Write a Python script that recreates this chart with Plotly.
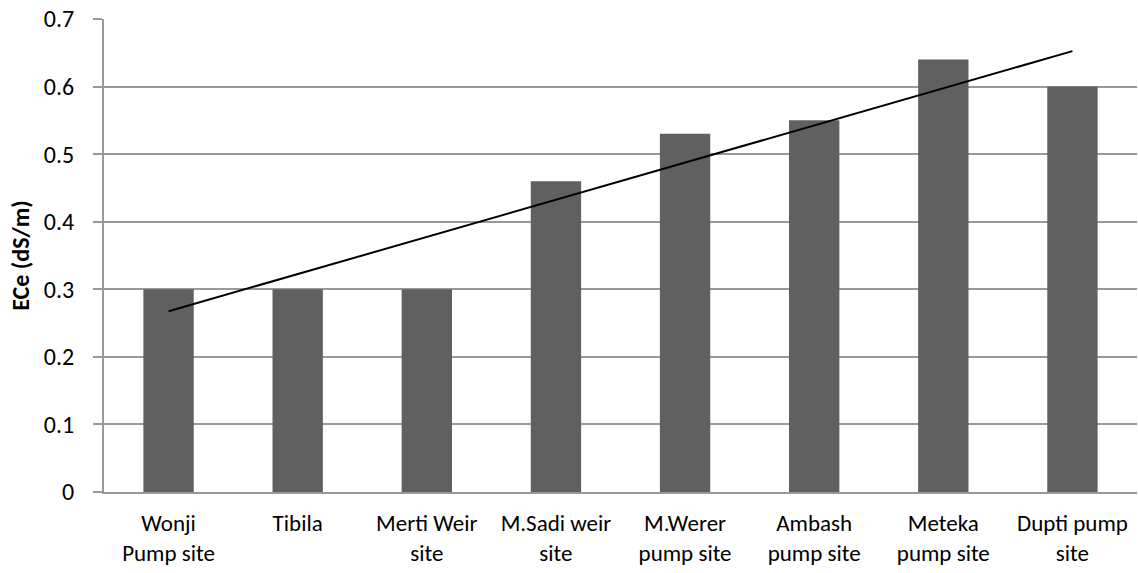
import numpy as np
import plotly.graph_objects as go

categories = ["Wonji<br>Pump site", "Tibila", "Merti Weir<br>site", "M.Sadi weir<br>site",
              "M.Werer<br>pump site", "Ambash<br>pump site", "Meteka<br>pump site", "Dupti pump<br>site"]
ece_values = [0.30, 0.30, 0.30, 0.46, 0.53, 0.55, 0.64, 0.60]
y_ticks = [0, 0.1, 0.2, 0.3, 0.4, 0.5, 0.6, 0.7]

# linear trend line (least squares over category index)
idx = np.arange(1, len(ece_values) + 1)
slope, intercept = np.polyfit(idx, ece_values, 1)
trend = slope * idx + intercept

FONT = "Carlito, Calibri, Lato, 'Open Sans', sans-serif"
FS = 24

fig = go.Figure()
fig.add_trace(go.Bar(x=categories, y=ece_values, marker=dict(color="#606060", line=dict(width=0)),
                     showlegend=False))
fig.add_trace(go.Scatter(x=[categories[0], categories[-1]], y=[trend[0], trend[-1]], mode="lines",
                         line=dict(color="black", width=2), showlegend=False))

fig.update_layout(
    width=1138, height=573,
    margin=dict(l=104, r=1, t=19, b=81, autoexpand=False),
    paper_bgcolor="white", plot_bgcolor="white",
    bargap=0.61,
    font=dict(family=FONT, size=FS, color="black"),
    xaxis=dict(showgrid=False, showline=True, linecolor="#999999", linewidth=2,
               ticks="", tickfont=dict(size=23), ticklabelstandoff=9,
               ticklabeloverflow="allow", automargin=False),
    yaxis=dict(range=[0, 0.7], tickvals=y_ticks, ticktext=[f"{v:g}" for v in y_ticks],
               showgrid=True, gridcolor="#999999", gridwidth=2,
               showline=True, linecolor="#999999", linewidth=2,
               ticks="outside", ticklen=9, tickcolor="#999999", tickwidth=2,
               ticklabelstandoff=14, tickfont=dict(size=FS),
               ticklabeloverflow="allow", automargin=False,
               zeroline=False,
               title=dict(text="<b>ECe (dS/m)</b>", standoff=7, font=dict(size=FS))),
)

fig.write_html("out.html", config={"displayModeBar": False},
               post_script="document.body.style.margin='0px';document.body.style.overflow='hidden';")
